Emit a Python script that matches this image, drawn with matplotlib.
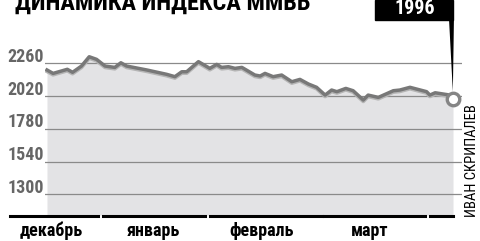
import matplotlib
matplotlib.use("Agg")
import matplotlib.pyplot as plt
from matplotlib.patches import Rectangle
import matplotlib.transforms as mtransforms

# ---- data ----
days = [0, 1.5, 5, 6.3, 8.5, 10.4, 12.2, 14.3, 16.7, 18.2, 19.6, 24.6, 29.5, 31.5,
        33.2, 34.4, 37.3, 40.1, 41.8, 43, 44.7, 46.3, 48, 51.2, 52.5, 53.7, 55.7,
        57.8, 60.3, 62.3, 64.4, 66.4, 68.5, 70.1, 71.4, 73.6, 75.4, 77.9, 79.1,
        81.6, 85.3, 86.9, 89.4, 93.5, 94.3, 95.6, 99.3, 100]
values = [2212, 2187, 2217, 2195, 2241, 2309, 2290, 2241, 2231, 2265, 2241, 2212,
          2180, 2163, 2199, 2199, 2273, 2224, 2253, 2231, 2236, 2224, 2231, 2175,
          2168, 2187, 2163, 2175, 2126, 2143, 2109, 2085, 2028, 2065, 2053, 2077,
          2060, 1992, 2028, 2011, 2060, 2065, 2085, 2053, 2028, 2045, 2028, 1996]
yticks = [1300, 1540, 1780, 2020, 2260]
months = ["декабрь", "январь", "февраль", "март", ""]
title = "ДИНАМИКА ИНДЕКСА ММВБ"
last_label = "1996"
credit = "ИВАН СКРИПАЛЕВ"

cond = ['Roboto Condensed', 'DejaVu Sans']
W, H = 481, 241
fig = plt.figure(figsize=(W / 100, H / 100), dpi=100)

# axes in pixel geometry
ax_l, ax_r, ax_top, ax_bot = 45, 462, 0, 215
ax = fig.add_axes([ax_l / W, (H - ax_bot) / H, (ax_r - ax_l) / W, (ax_bot - ax_top) / H])
ax.set_axis_off()
ymin, ymax = 1149, 2725
ax.set_ylim(ymin, ymax)
px_per_day = (453 - 47) / 100.0
ax.set_xlim(-(47 - ax_l) / px_per_day, 100 + (ax_r - 453) / px_per_day)

ax.fill_between(days, values, ymin, color="#e3e3e5", lw=0, zorder=1)
for t in yticks:
    ax.axhline(t, color="#8a8a8a", lw=0.9, zorder=2)
    ypx = ax_top + (ax_bot - ax_top) * (ymax - t) / (ymax - ymin)
    fig.text(44 / W, 1 - (ypx - 1.5) / H, str(t), ha="right", va="baseline",
             fontsize=13, fontweight="bold", color="#666666", family=cond)

shadow = mtransforms.offset_copy(ax.transData, fig=fig, x=0, y=-1.3, units="dots")
ax.plot(days, values, color="#b5b5b5", lw=2.8, zorder=3, transform=shadow,
        solid_joinstyle="round")
ax.plot(days, values, color="#787878", lw=2.5, zorder=4, solid_joinstyle="round")

# pointer from box to last point
ax.annotate("", xy=(days[-1], values[-1]), xytext=(451.5, H - 20), textcoords="figure pixels",
            arrowprops=dict(arrowstyle="wedge,tail_width=0.35,shrink_factor=0.5",
                            color="black", shrinkA=0, shrinkB=5.5, lw=0), zorder=5)
ax.plot([days[-1]], [values[-1]], marker="o", ms=9, mfc="white", mec="#858585",
        mew=2.4, zorder=6, clip_on=False)

# label box
fig.patches.append(Rectangle((375 / W, 1 - 20 / H), (453 - 375) / W, 20 / H,
                             transform=fig.transFigure, color="black", zorder=5))
fig.text(415 / W, 1 - 14 / H, last_label, ha="center", va="baseline", fontsize=14.5,
         fontweight="bold", color="white", family=cond, zorder=6)

# title (cropped at top)
fig.text(15 / W, 1 - 10 / H, title, ha="left", va="baseline", fontsize=17.5,
         fontweight="bold", color="black", family=cond)

# month bars and labels
bars = [(10, 98), (103, 205), (210, 322), (324, 425), (430, 453)]
centers = [51, 153, 262, 370]
for (x0, x1) in bars:
    fig.add_artist(plt.Line2D([x0 / W, x1 / W], [1 - 216 / H, 1 - 216 / H],
                              transform=fig.transFigure, color="black", lw=2.2))
for c, m in zip(centers, months):
    fig.text(c / W, 1 - 236.5 / H, m, ha="center", va="baseline",
             fontsize=13, fontweight="bold", color="black", family=cond)

fig.text(472 / W, 1 - 161 / H, credit, rotation=90, ha="center", va="center",
         fontsize=10.5, color="black", family=cond)

fig.savefig("out.png", dpi=100)
